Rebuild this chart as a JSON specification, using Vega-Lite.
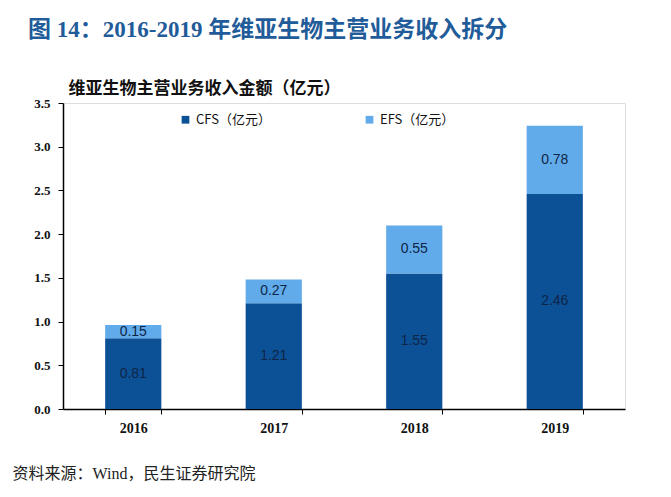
{
  "$schema": "https://vega.github.io/schema/vega-lite/v6.json",
  "width": 562,
  "height": 306,
  "autosize": {"type": "none"},
  "padding": {"left": 63, "top": 103, "right": 46, "bottom": 88},
  "background": "white",
  "title": {
    "text": "图 14：2016-2019 年维亚生物主营业务收入拆分",
    "anchor": "start",
    "frame": "group",
    "orient": "top",
    "offset": 37,
    "dx": -35,
    "font": "Liberation Serif, Noto Sans CJK SC",
    "fontSize": 23,
    "fontWeight": "bold",
    "color": "#1F5C99"
  },
  "data": {
    "values": [
      {"year": "2016", "series": "CFS（亿元）", "idx": 0, "value": 0.81},
      {"year": "2016", "series": "EFS（亿元）", "idx": 1, "value": 0.15},
      {"year": "2017", "series": "CFS（亿元）", "idx": 0, "value": 1.21},
      {"year": "2017", "series": "EFS（亿元）", "idx": 1, "value": 0.27},
      {"year": "2018", "series": "CFS（亿元）", "idx": 0, "value": 1.55},
      {"year": "2018", "series": "EFS（亿元）", "idx": 1, "value": 0.55},
      {"year": "2019", "series": "CFS（亿元）", "idx": 0, "value": 2.46},
      {"year": "2019", "series": "EFS（亿元）", "idx": 1, "value": 0.78}
    ]
  },
  "transform": [
    {"stack": "value", "groupby": ["year"], "sort": [{"field": "idx"}], "as": ["y0", "y1"]},
    {"calculate": "(datum.y0 + datum.y1) / 2", "as": "ymid"}
  ],
  "encoding": {
    "x": {
      "field": "year",
      "type": "nominal",
      "scale": {"paddingInner": 0.6, "paddingOuter": 0.3},
      "axis": {
        "title": "资料来源：Wind，民生证券研究院",
        "titleFont": "Liberation Serif, Noto Sans CJK SC",
        "titleFontSize": 16,
        "titleFontWeight": "normal",
        "titleColor": "#222222",
        "titleAnchor": "start",
        "titleAlign": "left",
        "titleBaseline": "middle",
        "titleX": -51,
        "titleY": 64,
        "labelAngle": 0,
        "labelFont": "Liberation Serif",
        "labelFontSize": 14,
        "labelFontWeight": "bold",
        "labelColor": "#111111",
        "labelPadding": 7,
        "tickBand": "extent",
        "tickSize": 5,
        "tickColor": "#000000",
        "domainColor": "#000000",
        "domainWidth": 1.5
      }
    }
  },
  "layer": [
    {
      "mark": {"type": "bar"},
      "encoding": {
        "y": {
          "field": "y0",
          "type": "quantitative",
          "scale": {"domain": [0, 3.5]},
          "axis": {
            "title": "维亚生物主营业务收入金额（亿元）",
            "titleAngle": 0,
            "titleAlign": "left",
            "titleAnchor": "start",
            "titleBaseline": "alphabetic",
            "titleX": 5,
            "titleY": -10,
            "titleFont": "Liberation Serif, Noto Sans CJK SC",
            "titleFontSize": 17,
            "titleFontWeight": "bold",
            "titleColor": "#111111",
            "values": [0, 0.5, 1, 1.5, 2, 2.5, 3, 3.5],
            "format": ".1f",
            "grid": false,
            "labelFont": "Liberation Serif",
            "labelFontSize": 13,
            "labelFontWeight": "bold",
            "labelColor": "#111111",
            "labelPadding": 8,
            "tickSize": 5,
            "tickColor": "#000000",
            "domainColor": "#000000",
            "domainWidth": 1.5
          }
        },
        "y2": {"field": "y1"},
        "color": {
          "field": "series",
          "type": "nominal",
          "scale": {"domain": ["CFS（亿元）", "EFS（亿元）"], "range": ["#0C5196", "#62ABEA"]},
          "legend": {
            "title": null,
            "orient": "none",
            "legendX": 116,
            "legendY": 10,
            "direction": "horizontal",
            "symbolType": "square",
            "symbolSize": 60,
            "symbolStrokeWidth": 0,
            "labelFont": "Noto Sans CJK SC",
            "labelFontSize": 13,
            "labelColor": "#111111",
            "columnPadding": 92
          }
        }
      }
    },
    {
      "mark": {"type": "text", "font": "Liberation Sans", "fontSize": 14, "color": "#0E2547", "baseline": "middle"},
      "encoding": {
        "y": {"field": "ymid", "type": "quantitative"},
        "text": {"field": "value", "type": "quantitative", "format": ".2f"}
      }
    }
  ]
}
